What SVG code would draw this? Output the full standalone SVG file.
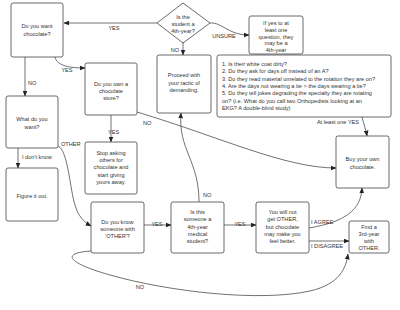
<svg xmlns="http://www.w3.org/2000/svg" width="400" height="310" viewBox="0 0 400 310">
<defs>
<marker id="ah" viewBox="0 0 10 10" refX="9" refY="5" markerWidth="6" markerHeight="6" orient="auto" markerUnits="userSpaceOnUse">
<path d="M0,1 L10,5 L0,9 z" fill="#222"/>
</marker>
<style>
.box{fill:#fff;stroke:#444;stroke-width:0.8}
.t{font-family:"Liberation Sans",Arial,sans-serif;font-size:5.6px;fill:#333;text-anchor:middle}
.tl{font-family:"Liberation Sans",Arial,sans-serif;font-size:5.6px;fill:#333}
.c{fill:none;stroke:#333;stroke-width:0.7;marker-end:url(#ah)}
</style>
</defs>
<rect width="400" height="310" fill="#fff"/>
<g id="connectors">
<path class="c" d="M157,23 L64,23"/>
<text class="t" x="114" y="30">YES</text>
<path class="c" d="M210,23 C222,22 228,35 249,35"/>
<text class="t" x="224" y="38">UNSURE</text>
<path class="c" d="M183,42 L183,55"/>
<text class="t" x="175" y="52">NO</text>
<path class="c" d="M55,57 C57,66 70,68 85,68"/>
<text class="t" x="67" y="72">YES</text>
<path class="c" d="M25,57 L25,96"/>
<text class="tl" x="28" y="85">NO</text>
<path class="c" d="M111,115 L111,142"/>
<text class="tl" x="108" y="134">YES</text>
<path class="c" d="M137,112 C220,137 285,168 336,168"/>
<text class="tl" x="143" y="125">NO</text>
<path class="c" d="M18,148 L18,168"/>
<text class="tl" x="22" y="159">I don't know</text>
<path class="c" d="M58,146 C68,150 70,190 75,205 C78,216 84,222 91,226"/>
<text class="tl" x="61" y="146">OTHER</text>
<path class="c" d="M144,225 L171,225"/>
<text class="t" x="157" y="226">YES</text>
<path class="c" d="M224,225 L256,225"/>
<text class="t" x="240" y="226">YES</text>
<path class="c" d="M199,202 C199,160 178,150 181,113"/>
<text class="tl" x="203" y="197">NO</text>
<path class="c" d="M309,228 C345,222 361,210 362,188"/>
<text class="tl" x="311" y="224">I AGREE</text>
<path class="c" d="M309,241 L349,241"/>
<text class="tl" x="311" y="248">I DISAGREE</text>
<path class="c" d="M362,117 C364,125 366,130 367,136"/>
<text class="t" x="338" y="124">At least one YES</text>
<path class="c" d="M91,251 C60,253 68,263 110,275 C170,292 260,302 310,291 C340,284 346,268 348,254"/>
<text class="t" x="140" y="289">NO</text>
</g>
<g id="n-chocolate"><rect class="box" x="11" y="3" width="52" height="54" rx="2"/><text class="t" x="37" y="28">Do you want</text><text class="t" x="37" y="35.5">chocolate?</text></g>
<g id="n-4thyear"><polygon class="box" points="183,3 210,23 183,43 157,23"/><text class="t" x="183" y="18.5">Is the</text><text class="t" x="183" y="26">student a</text><text class="t" x="183" y="33">4th-year?</text></g>
<g id="n-ifyes"><rect class="box" x="249" y="16" width="54" height="38" rx="2"/><text class="t" x="276" y="25">If yes to at</text><text class="t" x="276" y="31.8">least one</text><text class="t" x="276" y="38.6">question, they</text><text class="t" x="276" y="45.4">may be a</text><text class="t" x="276" y="52.2">4th-year</text></g>
<g id="n-proceed"><rect class="box" x="157" y="55" width="54" height="58" rx="2"/><text class="t" x="184" y="77">Proceed with</text><text class="t" x="184" y="84.7">your tactic of</text><text class="t" x="184" y="92">demanding.</text></g>
<g id="n-questions"><rect class="box" x="217" y="55" width="174" height="62" rx="2"/>
<text class="tl" x="222" y="66">1. Is their white coat dirty?</text>
<text class="tl" x="222" y="73.3">2. Do they ask for days off instead of an A?</text>
<text class="tl" x="222" y="80.6">3. Do they read material unrelated to the rotation they are on?</text>
<text class="tl" x="222" y="87.9">4. Are the days not wearing a tie &gt; the days wearing a tie?</text>
<text class="tl" x="222" y="95.2">5. Do they tell jokes degrading the specialty they are rotating</text>
<text class="tl" x="222" y="102.5">on? (i.e. What do you call two Orthopedists looking at an</text>
<text class="tl" x="222" y="109.8">EKG? A double-blind study)</text></g>
<g id="n-store"><rect class="box" x="85" y="63" width="52" height="52" rx="2"/><text class="t" x="111" y="86">Do you own a</text><text class="t" x="111" y="93">chocolate</text><text class="t" x="111" y="99.5">store?</text></g>
<g id="n-what"><rect class="box" x="6" y="96" width="52" height="52" rx="2"/><text class="t" x="32" y="121">What do you</text><text class="t" x="32" y="128.5">want?</text></g>
<g id="n-figure"><rect class="box" x="6" y="168" width="52" height="53" rx="2"/><text class="t" x="32" y="197.5">Figure it out.</text></g>
<g id="n-stop"><rect class="box" x="85" y="142" width="52" height="52" rx="2"/><text class="t" x="111" y="154.7">Stop asking</text><text class="t" x="111" y="162">others for</text><text class="t" x="111" y="169.3">chocolate and</text><text class="t" x="111" y="176.5">start giving</text><text class="t" x="111" y="183.7">yours away.</text></g>
<g id="n-buy"><rect class="box" x="336" y="136" width="53" height="52" rx="2"/><text class="t" x="362.5" y="161">Buy your own</text><text class="t" x="362.5" y="168.5">chocolate.</text></g>
<g id="n-know"><rect class="box" x="91" y="202" width="53" height="51" rx="2"/><text class="t" x="117.5" y="224.3">Do you know</text><text class="t" x="117.5" y="231">someone with</text><text class="t" x="117.5" y="237.7">'OTHER'?</text></g>
<g id="n-isthis"><rect class="box" x="171" y="202" width="53" height="51" rx="2"/><text class="t" x="197.5" y="214.3">Is this</text><text class="t" x="197.5" y="221">someone a</text><text class="t" x="197.5" y="228.5">4th-year</text><text class="t" x="197.5" y="236">medical</text><text class="t" x="197.5" y="243">student?</text></g>
<g id="n-willnot"><rect class="box" x="256" y="202" width="53" height="51" rx="2"/><text class="t" x="282.5" y="214.3">You will not</text><text class="t" x="282.5" y="221">get OTHER,</text><text class="t" x="282.5" y="228.5">but chocolate</text><text class="t" x="282.5" y="235.5">may make you</text><text class="t" x="282.5" y="242.7">feel better.</text></g>
<g id="n-find"><rect class="box" x="349" y="221" width="40" height="32" rx="2"/><text class="t" x="369" y="228.7">Find a</text><text class="t" x="369" y="236">3rd-year</text><text class="t" x="369" y="243">with</text><text class="t" x="369" y="250.3">OTHER.</text></g>
</svg>
